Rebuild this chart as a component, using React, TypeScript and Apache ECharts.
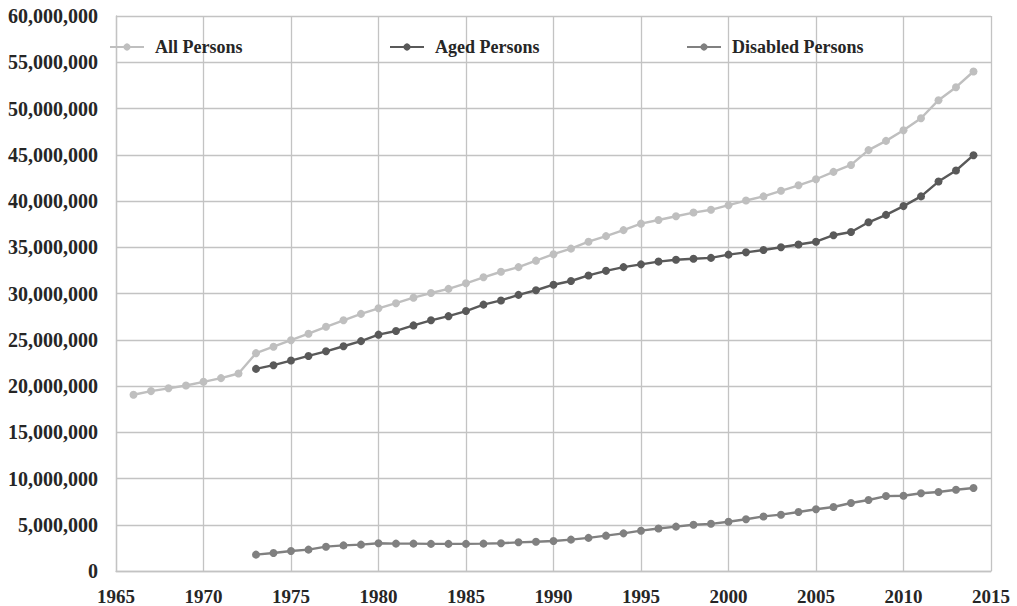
import React, { useEffect, useRef } from "react";
import * as echarts from "echarts";

const yearsAll = [
  1966, 1967, 1968, 1969, 1970, 1971, 1972, 1973, 1974, 1975, 1976, 1977, 1978, 1979, 1980,
  1981, 1982, 1983, 1984, 1985, 1986, 1987, 1988, 1989, 1990, 1991, 1992, 1993, 1994, 1995,
  1996, 1997, 1998, 1999, 2000, 2001, 2002, 2003, 2004, 2005, 2006, 2007, 2008, 2009, 2010,
  2011, 2012, 2013, 2014,
];
const allPersons = [
  19.05, 19.45, 19.75, 20.05, 20.45, 20.85, 21.35, 23.55, 24.25, 24.95, 25.65, 26.4, 27.1, 27.8, 28.4,
  28.95, 29.55, 30.05, 30.5, 31.1, 31.75, 32.35, 32.85, 33.55, 34.25, 34.85, 35.6, 36.2, 36.85, 37.55,
  37.95, 38.35, 38.75, 39.05, 39.55, 40.05, 40.5, 41.1, 41.7, 42.35, 43.15, 43.9, 45.5, 46.5, 47.65,
  48.95, 50.9, 52.3, 54.0,
];

const yearsSub = [
  1973, 1974, 1975, 1976, 1977, 1978, 1979, 1980,
  1981, 1982, 1983, 1984, 1985, 1986, 1987, 1988, 1989, 1990,
  1991, 1992, 1993, 1994, 1995, 1996, 1997, 1998, 1999, 2000,
  2001, 2002, 2003, 2004, 2005, 2006, 2007, 2008, 2009, 2010, 2011, 2012, 2013, 2014,
];
const agedPersons = [
  21.85, 22.25, 22.75, 23.25, 23.75, 24.3, 24.85, 25.55,
  25.95, 26.55, 27.1, 27.55, 28.1, 28.8, 29.25, 29.85, 30.35, 30.95,
  31.35, 31.95, 32.45, 32.85, 33.15, 33.45, 33.65, 33.75, 33.85, 34.2,
  34.45, 34.7, 35.0, 35.3, 35.6, 36.3, 36.65, 37.7, 38.5, 39.45, 40.5, 42.1, 43.3, 44.95,
];
const disabledPersons = [
  1.77, 1.95, 2.16, 2.31, 2.63, 2.77, 2.85, 3.0,
  2.96, 2.96, 2.93, 2.93, 2.93, 2.96, 3.0, 3.1, 3.17, 3.24,
  3.39, 3.58, 3.82, 4.07, 4.36, 4.6, 4.8, 5.0, 5.1, 5.33,
  5.59, 5.9, 6.09, 6.38, 6.67, 6.92, 7.35, 7.68, 8.1, 8.14, 8.4, 8.54, 8.79, 8.97,
];

const seriesNames = ["All Persons", "Aged Persons", "Disabled Persons"];
const seriesColors = ["#bfbfbf", "#595959", "#808080"];
const UNIT = 1000000;

const FONT = "'Liberation Serif', 'Times New Roman', serif";
const TEXT_COLOR = "#262626";
const GRID_COLOR = "#c3c3c3";

function pairs(xs: number[], ys: number[]) {
  return xs.map((x, i) => [x, ys[i] * UNIT]);
}

export default function App() {
  const ref = useRef<HTMLDivElement>(null);

  useEffect(() => {
    if (!ref.current) return;
    const chart = echarts.init(ref.current, undefined, { renderer: "svg" });

    const data = [
      pairs(yearsAll, allPersons),
      pairs(yearsSub, agedPersons),
      pairs(yearsSub, disabledPersons),
    ];
    const legendLefts = [109, 389, 686];

    const legendText = {
      fontFamily: FONT,
      fontSize: 18,
      fontWeight: "bold" as const,
      color: TEXT_COLOR,
      padding: [0, 0, 0, 6],
    };

    chart.setOption({
      animation: false,
      backgroundColor: "#ffffff",
      grid: { left: 116, right: 26, top: 16, bottom: 35, containLabel: false },
      legend: seriesNames.map((n, i) => ({
        data: [n],
        left: legendLefts[i],
        top: 38,
        padding: 0,
        itemWidth: 34,
        itemHeight: 9,
        textStyle: legendText,
      })),
      xAxis: {
        type: "value",
        min: 1965,
        max: 2015,
        interval: 5,
        axisLine: { show: true, lineStyle: { color: GRID_COLOR, width: 1.3 } },
        axisTick: { show: false },
        splitLine: { show: true, lineStyle: { color: GRID_COLOR, width: 1.3 } },
        axisLabel: {
          fontFamily: FONT,
          fontSize: 19,
          fontWeight: "bold",
          color: TEXT_COLOR,
          margin: 16,
          formatter: (v: number) => String(v),
        },
      },
      yAxis: {
        type: "value",
        min: 0,
        max: 60 * UNIT,
        interval: 5 * UNIT,
        axisLine: { show: true, lineStyle: { color: GRID_COLOR, width: 1.3 } },
        axisTick: { show: false },
        splitLine: { show: true, lineStyle: { color: GRID_COLOR, width: 1.3 } },
        axisLabel: {
          fontFamily: FONT,
          fontSize: 20,
          fontWeight: "bold",
          color: TEXT_COLOR,
          margin: 18,
          formatter: (v: number) => (v === 0 ? "0" : v.toLocaleString("en-US")),
        },
      },
      series: seriesNames.map((n, i) => ({
        name: n,
        type: "line",
        data: data[i],
        symbol: "circle",
        symbolSize: 8,
        showSymbol: true,
        itemStyle: { color: seriesColors[i] },
        lineStyle: { color: seriesColors[i], width: 2.4 },
        emphasis: { disabled: true },
      })),
    });

    return () => chart.dispose();
  }, []);

  return (
    <div
      ref={ref}
      style={{ position: "fixed", left: 0, top: 0, width: 1017, height: 606 }}
    />
  );
}
